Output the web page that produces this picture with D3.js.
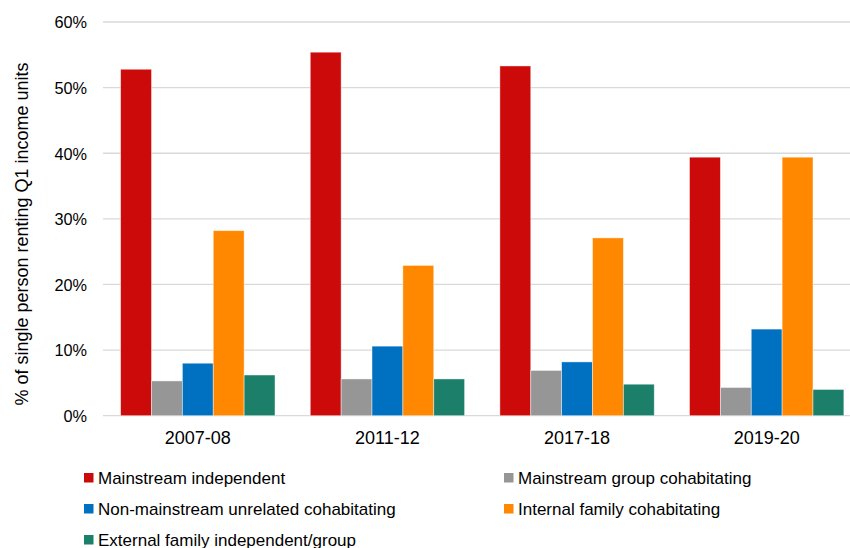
<!DOCTYPE html>
<html>
<head>
<meta charset="utf-8">
<script src="https://cdn.jsdelivr.net/npm/d3@7"></script>
<style>
  html, body { margin: 0; padding: 0; background: #fff; }
  svg { display: block; font-family: "Liberation Sans", Arial, sans-serif; }
</style>
</head>
<body>
<svg id="chart" width="850" height="548"></svg>
<script>
// Survey years shown along the x axis
const years = ["2007-08", "2011-12", "2017-18", "2019-20"];

// Living-arrangement groups (one bar per group within each year)
const seriesNames = [
  "Mainstream independent",
  "Mainstream group cohabitating",
  "Non-mainstream unrelated cohabitating",
  "Internal family cohabitating",
  "External family independent/group"
];
const seriesColors = ["#cc0a0a", "#969696", "#0070c0", "#ff8800", "#1b7f6a"];

// Share of single-person renting Q1 income units (%), per year
const mainstreamIndependent   = [52.8, 55.4, 53.3, 39.4];
const mainstreamGroup         = [5.3, 5.6, 6.9, 4.3];
const nonMainstreamUnrelated  = [8.0, 10.6, 8.2, 13.2];
const internalFamily          = [28.2, 22.9, 27.1, 39.4];
const externalFamily          = [6.2, 5.6, 4.8, 4.0];

const yTicks = [0, 10, 20, 30, 40, 50, 60];

const seriesValues = [
  mainstreamIndependent, mainstreamGroup, nonMainstreamUnrelated,
  internalFamily, externalFamily
];

const rows = years.map((yr, i) => ({
  year: yr,
  values: seriesNames.map((name, s) => ({ name, s, v: seriesValues[s][i] }))
}));

const svg = d3.select("#chart");

const plot = { left: 103, right: 861.5, top: 22, bottom: 415.7 };

const y = d3.scaleLinear().domain([0, 60]).range([plot.bottom, plot.top]);

const x0 = d3.scaleBand()
  .domain(years)
  .range([plot.left, plot.right])
  .paddingInner(0.186)
  .paddingOuter(0.093);

const x1 = d3.scaleBand()
  .domain(d3.range(seriesNames.length))
  .range([0, x0.bandwidth()])
  .padding(0);

// Horizontal gridlines
svg.append("g")
  .selectAll("line")
  .data(yTicks)
  .join("line")
  .attr("x1", plot.left)
  .attr("x2", 850)
  .attr("y1", d => y(d))
  .attr("y2", d => y(d))
  .attr("stroke", "#d9d9d9")
  .attr("stroke-width", 1.3);

// Y axis tick labels
const yAxis = d3.axisLeft(y)
  .tickValues(yTicks)
  .tickFormat(d => d + "%")
  .tickSize(0)
  .tickPadding(0);

svg.append("g")
  .attr("transform", "translate(87,0)")
  .call(yAxis)
  .call(g => g.select(".domain").remove())
  .call(g => g.selectAll("text")
    .attr("font-size", 16.3)
    .attr("font-family", "'Liberation Sans', Arial, sans-serif")
    .attr("fill", "#000")
    .attr("dy", "0.36em"));

// Bars
const groups = svg.append("g")
  .selectAll("g")
  .data(rows)
  .join("g")
  .attr("transform", d => `translate(${x0(d.year)},0)`);

groups.selectAll("rect")
  .data(d => d.values)
  .join("rect")
  .attr("x", d => x1(d.s))
  .attr("width", x1.bandwidth())
  .attr("y", d => y(d.v))
  .attr("height", d => y(0) - y(d.v))
  .attr("fill", d => seriesColors[d.s])
  .attr("stroke", "#ffffff")
  .attr("stroke-opacity", 0.55)
  .attr("stroke-width", 0.8);

// X axis category labels
const xAxis = d3.axisBottom(x0).tickSize(0).tickPadding(0);
svg.append("g")
  .attr("transform", `translate(0,${plot.bottom})`)
  .call(xAxis)
  .call(g => g.select(".domain").remove())
  .call(g => g.selectAll("text")
    .attr("font-size", 18)
    .attr("font-family", "'Liberation Sans', Arial, sans-serif")
    .attr("fill", "#000")
    .attr("dy", null)
    .attr("y", 28.8));

// Y axis title
svg.append("text")
  .attr("transform", "translate(27.5,234) rotate(-90)")
  .attr("text-anchor", "middle")
  .attr("font-size", 18)
  .attr("fill", "#000")
  .text("% of single person renting Q1 income units");

// Legend (two columns)
const legendPos = [
  { x: 84, y: 483.5 }, { x: 504, y: 483.5 },
  { x: 84, y: 514.5 }, { x: 504, y: 514.5 },
  { x: 84, y: 545.5 }
];

const legend = svg.append("g")
  .selectAll("g")
  .data(seriesNames)
  .join("g")
  .attr("transform", (d, i) => `translate(${legendPos[i].x},${legendPos[i].y})`);

legend.append("rect")
  .attr("x", 0)
  .attr("y", -10.5)
  .attr("width", 9.5)
  .attr("height", 9.5)
  .attr("fill", (d, i) => seriesColors[i]);

legend.append("text")
  .attr("x", 14)
  .attr("y", 0)
  .attr("font-size", 17)
  .attr("fill", "#000")
  .text(d => d);
</script>
</body>
</html>
